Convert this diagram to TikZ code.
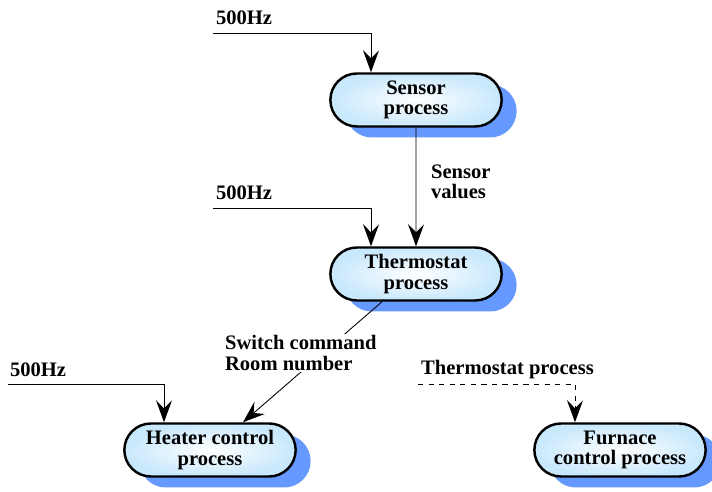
\documentclass[tikz,border=0pt]{standalone}
\usepackage{fontspec}
\setmainfont{Liberation Serif}
\usetikzlibrary{shapes.misc,shadows,arrows.meta}
\definecolor{shadowblue}{RGB}{102,153,255}
\definecolor{procblue}{RGB}{200,232,252}
\begin{document}
\begin{tikzpicture}[>={Stealth[length=4.4mm,width=3.2mm,inset=1.6mm]},
  every node/.style={font=\bfseries\fontsize{11.7}{11.5}\selectfont},
  proc/.style={rounded rectangle, draw, line width=1.4pt, align=center,
    minimum width=3.66cm, minimum height=1.06cm,
    inner color=white, outer color=procblue,
    general shadow={fill=shadowblue, shadow xshift=0.3cm, shadow yshift=-0.22cm}},
  lbl/.style={inner sep=1pt, align=left},
  flow/.style={->, line width=0.5pt}]
\useasboundingbox (0,0) rectangle (14.24,9.82);

\node[proc] (sensor) at (8.32,7.82) {Sensor\\process};
\node[proc] (thermo) at (8.32,4.34) {Thermostat\\process};
\node[proc] (heater) at (4.20,0.82) {Heater control\\process};
\node[proc] (furnace) at (12.40,0.82) {Furnace\\control process};

\coordinate (inA) at (4.26,9.16);
\coordinate (inB) at (4.26,5.66);
\coordinate (inC) at (0.16,2.14);
\coordinate (inD) at (8.36,2.14);

\node[lbl, anchor=west] (hzA) at (4.28,9.46) {500Hz};
\node[lbl, anchor=west] (hzB) at (4.28,5.96) {500Hz};
\node[lbl, anchor=west] (hzC) at (0.16,2.42) {500Hz};
\node[lbl, anchor=west] (tp) at (8.38,2.42) {Thermostat process};
\node[lbl, anchor=west] (vals) at (8.58,6.18) {Sensor\\values};

\draw[flow] (inA) -| ([xshift=-0.9cm]sensor.north);
\draw[flow] (inB) -| ([xshift=-0.9cm]thermo.north);
\draw[flow] (inC) -| ([xshift=-0.92cm]heater.north);
\draw[flow, dashed] (inD) -| ([xshift=-0.9cm]furnace.north);
\draw[flow] (sensor) -- (thermo);
\draw[flow] ([xshift=-0.68cm]thermo.south) -- ([xshift=0.66cm]heater.north);

\node[lbl, anchor=west, fill=white] (cmd) at (4.46,2.76) {Switch command\\Room number};
\end{tikzpicture}
\end{document}
